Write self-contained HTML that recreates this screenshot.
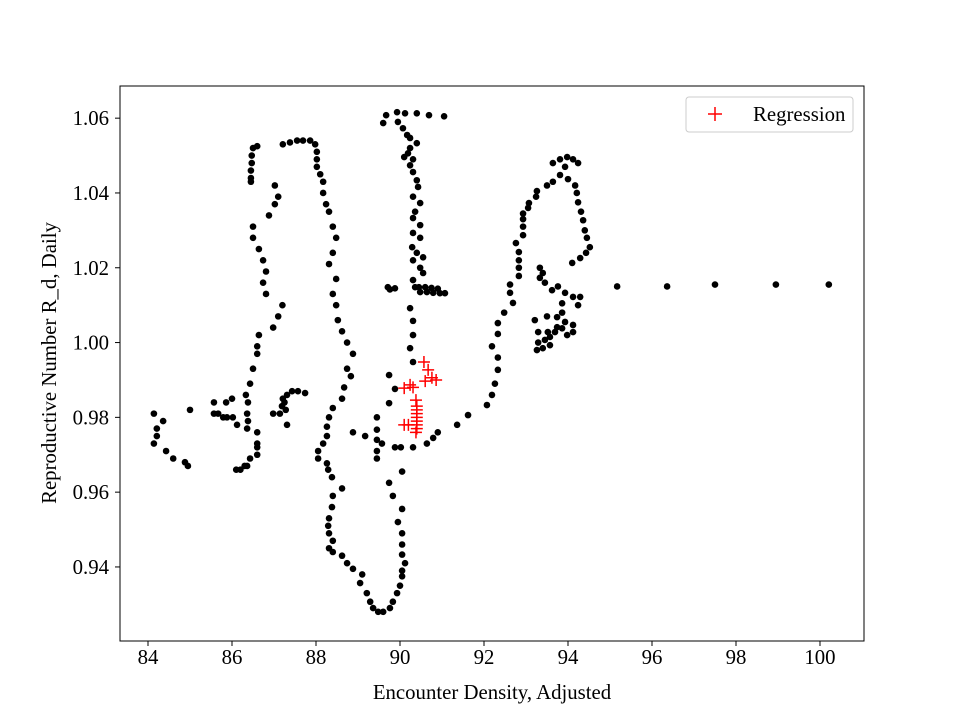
<!DOCTYPE html>
<html><head><meta charset="utf-8">
<style>
body{margin:0;background:#fff;}
svg{display:block;font-family:"Liberation Serif",serif;}
</style></head>
<body>
<svg id="chart" width="960" height="720" viewBox="0 0 960 720">
<rect width="960" height="720" fill="#fff"/>
<g id="dots"></g>
<g id="reg"></g>
<rect x="120" y="86" width="744" height="555" fill="none" stroke="#000" stroke-width="1"/>
<g id="xticks"></g>
<g id="yticks"></g>
<text x="492" y="699" font-size="20.8" text-anchor="middle">Encounter Density, Adjusted</text>
<text transform="translate(56,363) rotate(-90)" font-size="20.8" text-anchor="middle">Reproductive Number R_d, Daily</text>
<g>
<rect x="686" y="97" width="167" height="35" rx="3" fill="#fff" stroke="#ccc"/>
<g>
<path d="M708 114h14M715 107v14" stroke="red" stroke-width="1.5"/>
<text x="753" y="121" font-size="20.8">Regression</text>
</g></g>
</svg>
<script>
const xTicks=[84,86,88,90,92,94,96,98,100];
const yTicks=[0.94,0.96,0.98,1.00,1.02,1.04,1.06];
const dotX=[84.14,84.36,84.21,84.21,84.14,84.43,84.6,84.88,84.95,85.0,
85.57,85.57,85.67,85.79,85.88,86.02,86.12,85.86,86.0,
86.33,86.38,86.36,86.38,86.36,86.6,86.6,86.6,86.6,86.43,86.36,86.1,86.2,86.3,
86.43,86.5,86.6,86.6,86.64,86.98,87.1,87.2,86.81,86.74,86.81,86.74,86.64,86.5,86.5,86.88,87.02,87.1,87.02,
86.45,86.45,86.45,86.47,86.47,86.5,86.6,
87.31,87.14,86.98,87.19,87.21,87.43,87.57,87.74,87.31,87.25,87.28,
87.21,87.38,87.55,87.69,87.86,87.98,88.02,88.02,88.02,88.1,88.17,88.17,88.24,88.31,88.4,88.48,88.4,88.31,88.48,88.4,88.48,88.52,88.62,88.74,88.88,88.74,88.83,88.67,88.62,88.4,88.31,88.26,88.26,88.17,88.05,88.05,
88.26,88.29,88.38,88.62,88.4,88.38,88.31,88.29,88.31,88.4,88.31,88.4,88.62,88.74,88.88,89.1,89.05,89.21,89.29,89.36,89.48,89.6,89.76,89.83,89.93,90.0,90.05,90.05,90.12,90.05,90.05,90.05,89.95,90.05,89.83,89.74,90.05,
89.45,89.45,89.45,89.45,89.45,89.74,89.88,89.74,
88.88,89.17,89.57,89.88,90.02,90.31,90.64,90.79,90.9,91.36,
91.62,92.07,92.19,92.26,92.33,92.33,92.19,92.33,92.33,92.48,92.69,92.62,92.62,92.83,92.83,92.83,92.83,92.76,92.93,92.93,92.93,92.93,93.05,93.07,93.24,93.26,93.5,93.64,93.81,93.64,93.81,93.98,94.12,94.24,93.93,94.0,94.17,94.21,94.24,94.31,94.36,94.4,94.45,94.52,94.43,94.29,94.1,
93.33,93.4,93.33,93.45,93.62,93.76,93.93,94.12,94.29,94.24,93.86,93.86,93.74,93.5,93.21,93.29,93.29,93.26,93.4,93.57,93.57,93.69,93.86,93.98,94.12,94.12,93.93,93.74,93.52,93.45,
95.17,96.36,97.5,98.95,100.21,
89.67,89.6,89.93,90.12,90.4,90.69,91.05,89.95,90.07,90.17,90.24,90.4,90.24,90.19,90.1,90.31,90.24,90.31,90.4,90.43,90.31,90.48,90.36,90.31,90.48,90.31,90.48,90.29,90.4,90.55,90.31,90.48,90.55,90.31,90.36,
90.48,90.64,90.79,90.95,91.07,90.45,90.6,90.75,90.9,89.71,89.88,89.76,
90.24,90.31,90.31,90.24,90.31];
const dotY=[0.981,0.979,0.977,0.975,0.973,0.971,0.969,0.968,0.967,0.982,
0.984,0.981,0.981,0.980,0.980,0.980,0.978,0.984,0.985,
0.986,0.984,0.981,0.979,0.977,0.976,0.973,0.972,0.970,0.969,0.967,0.966,0.966,0.967,
0.989,0.993,0.997,0.999,1.002,1.004,1.007,1.010,1.013,1.016,1.019,1.022,1.025,1.028,1.031,1.034,1.037,1.039,1.042,
1.043,1.044,1.046,1.048,1.050,1.052,1.0525,
0.978,0.981,0.981,0.983,0.985,0.987,0.987,0.9865,0.986,0.984,0.982,
1.053,1.0535,1.054,1.054,1.054,1.053,1.051,1.049,1.047,1.045,1.043,1.040,1.037,1.035,1.031,1.028,1.024,1.021,1.017,1.013,1.010,1.006,1.003,1.000,0.997,0.993,0.991,0.988,0.985,0.9825,0.980,0.9775,0.975,0.973,0.971,0.969,
0.9677,0.966,0.964,0.961,0.959,0.956,0.953,0.951,0.949,0.947,0.945,0.944,0.943,0.941,0.9395,0.938,0.9357,0.933,0.9307,0.929,0.928,0.928,0.929,0.9307,0.933,0.935,0.9375,0.939,0.941,0.9433,0.946,0.949,0.952,0.9555,0.959,0.9625,0.9655,
0.969,0.971,0.974,0.9767,0.980,0.9838,0.9876,0.9913,
0.976,0.975,0.973,0.972,0.972,0.972,0.973,0.9745,0.976,0.978,
0.9806,0.9833,0.986,0.989,0.9927,0.996,0.999,1.0023,1.0052,1.008,1.0106,1.0133,1.0155,1.0178,1.020,1.022,1.0242,1.0266,1.0287,1.031,1.033,1.0345,1.036,1.0373,1.039,1.0405,1.042,1.043,1.0448,1.048,1.049,1.0496,1.049,1.048,1.047,1.0437,1.042,1.040,1.0375,1.035,1.0327,1.030,1.028,1.0255,1.024,1.0226,1.0213,
1.020,1.0186,1.0173,1.016,1.014,1.015,1.0133,1.0122,1.0122,1.010,1.0105,1.008,1.0068,1.007,1.006,1.0028,1.0,0.998,0.9985,0.9993,1.0015,1.0028,1.0038,1.002,1.0047,1.0028,1.0055,1.0041,1.0028,1.0007,
1.015,1.015,1.0155,1.0155,1.0155,
1.0608,1.0587,1.0616,1.0613,1.0613,1.0608,1.0605,1.059,1.0573,1.0555,1.0547,1.0533,1.052,1.0506,1.0496,1.049,1.0474,1.0456,1.0434,1.0416,1.039,1.0373,1.035,1.0333,1.0314,1.0293,1.028,1.0255,1.024,1.0228,1.022,1.020,1.0186,1.0167,1.0148,
1.0135,1.0135,1.0133,1.0132,1.0132,1.0148,1.0148,1.0146,1.0144,1.0148,1.0145,1.0142,
1.0092,1.0058,1.002,0.9985,0.9948];
const regX=[90.57,90.67,90.76,90.6,90.86,90.24,90.31,90.1,90.38,90.4,90.4,90.4,90.4,90.4,90.4,90.4,90.1,90.38,90.2];
const regY=[0.9948,0.9927,0.9906,0.9897,0.99,0.9887,0.988,0.9878,0.9846,0.983,0.982,0.981,0.980,0.979,0.978,0.977,0.978,0.976,0.978];
const X0=83.333,X1=101.048,Y0=0.9202,Y1=1.0686,L=120,R=864,T=86,B=641;
const sx=v=>L+(v-X0)/(X1-X0)*(R-L);
const sy=v=>B-(v-Y0)/(Y1-Y0)*(B-T);
const NS='http://www.w3.org/2000/svg';
function mk(tag,attrs,parent){const e=document.createElementNS(NS,tag);for(const k in attrs)e.setAttribute(k,attrs[k]);parent.appendChild(e);return e;}
const dots=document.getElementById('dots');
for(let i=0;i<dotX.length;i++){
 const c=mk('circle',{cx:sx(dotX[i]),cy:sy(dotY[i]),r:3.3,fill:'#000'},dots);
 
 
}
const reg=document.getElementById('reg');
for(let i=0;i<regX.length;i++){
 const x=sx(regX[i]),y=sy(regY[i]);
 const p=mk('path',{d:`M${x-6} ${y}h12M${x} ${y-6}v12`,stroke:'red','stroke-width':1.5},reg);
 
 
}
const xg=document.getElementById('xticks');
xTicks.forEach(v=>{
 const x=sx(v);
 const l=mk('line',{x1:x,x2:x,y1:B,y2:B+5,stroke:'#000'},xg);
 
 
 const t=mk('text',{x:x,y:B+23,'font-size':20.8,'text-anchor':'middle'},xg);
 t.textContent=String(v);
 
 
});
const yg=document.getElementById('yticks');
yTicks.forEach(v=>{
 const y=sy(v);
 const l=mk('line',{x1:L-5,x2:L,y1:y,y2:y,stroke:'#000'},yg);
 
 
 const t=mk('text',{x:L-11,y:y+7,'font-size':20.8,'text-anchor':'end'},yg);
 t.textContent=v.toFixed(2);
 
 
});
</script>
</body></html>
